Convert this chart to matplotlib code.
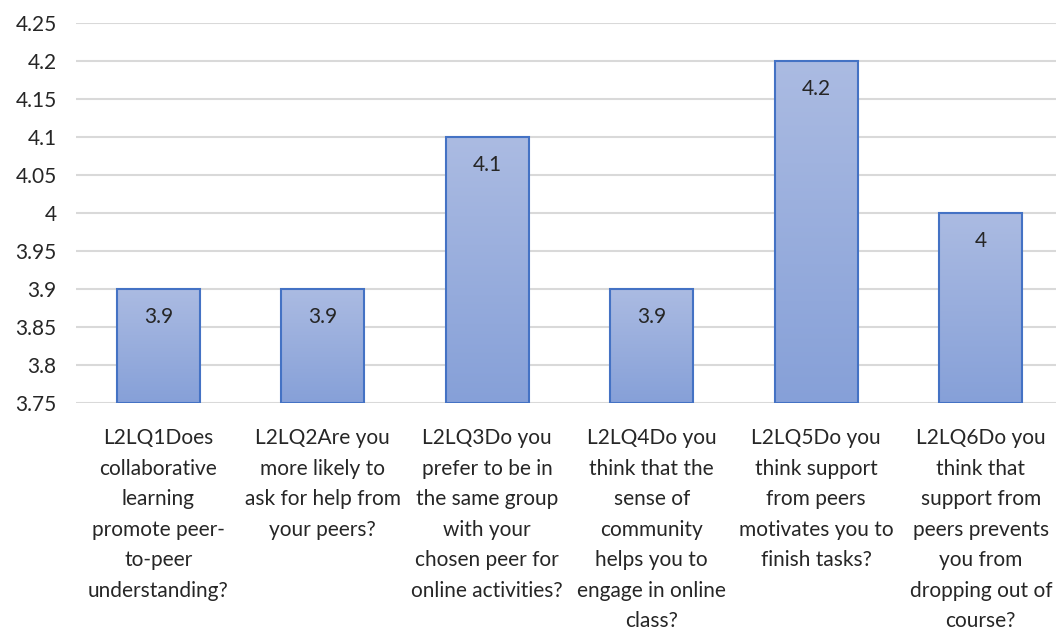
import matplotlib.pyplot as plt
import numpy as np

plt.rcParams['font.family'] = ['Lato', 'DejaVu Sans']

categories = [
    "L2LQ1Does\ncollaborative\nlearning\npromote peer-\nto-peer\nunderstanding?",
    "L2LQ2Are you\nmore likely to\nask for help from\nyour peers?",
    "L2LQ3Do you\nprefer to be in\nthe same group\nwith your\nchosen peer for\nonline activities?",
    "L2LQ4Do you\nthink that the\nsense of\ncommunity\nhelps you to\nengage in online\nclass?",
    "L2LQ5Do you\nthink support\nfrom peers\nmotivates you to\nfinish tasks?",
    "L2LQ6Do you\nthink that\nsupport from\npeers prevents\nyou from\ndropping out of\ncourse?",
]
values = [3.9, 3.9, 4.1, 3.9, 4.2, 4.0]
yticks = [3.75, 3.8, 3.85, 3.9, 3.95, 4.0, 4.05, 4.1, 4.15, 4.2, 4.25]
ytick_labels = ["3.75", "3.8", "3.85", "3.9", "3.95", "4", "4.05", "4.1", "4.15", "4.2", "4.25"]
value_labels = ["3.9", "3.9", "4.1", "3.9", "4.2", "4"]

fig = plt.figure(figsize=(10.56, 6.3), dpi=100)
ax = fig.add_axes([76 / 1056, 1 - 403 / 630, 1 - 76 / 1056, (403 - 23) / 630])

ymin, ymax = 3.75, 4.25
width = 0.505
x = np.arange(len(values))

ax.set_xlim(-0.5, 5.5 - 7 / 164.5)
ax.set_ylim(ymin, ymax)

# vertical gradient, light at the top, darker at the base
grad = np.linspace(0, 1, 256).reshape(-1, 1)
top_c = np.array([0xAB, 0xBB, 0xE2]) / 255
bot_c = np.array([0x86, 0xA0, 0xD8]) / 255
img = top_c * (1 - grad[..., None]) + bot_c * grad[..., None]
img = img.reshape(256, 1, 3)

for xi, v, lab in zip(x, values, value_labels):
    ax.imshow(img, extent=[xi - width / 2, xi + width / 2, ymin, v],
              aspect='auto', origin='upper', zorder=2)
    ax.bar(xi, v - ymin, width, bottom=ymin, facecolor='none',
           edgecolor='#4472C4', linewidth=1.5, zorder=3)
    ax.annotate(lab, (xi, v), xytext=(0, -20.5), textcoords='offset points',
                ha='center', va='center', fontsize=15, color='#262626', zorder=4)

ax.set_yticks(yticks)
ax.set_yticklabels(ytick_labels)
ax.set_xticks(x)
ax.set_xticklabels(categories, linespacing=1.66)
ax.tick_params(axis='both', length=0, labelsize=15, colors='#262626')
ax.tick_params(axis='x', pad=18)
ax.tick_params(axis='y', pad=14)

ax.grid(axis='y', color='#D9D9D9', linewidth=1.5, zorder=0)
ax.set_axisbelow(True)
for s in ax.spines.values():
    s.set_visible(False)

plt.savefig('out.png', dpi=100)
